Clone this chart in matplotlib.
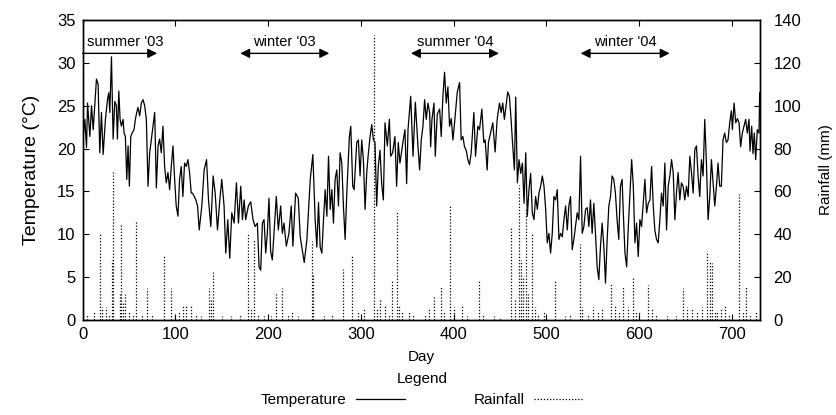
import matplotlib
matplotlib.use("Agg")
import matplotlib.pyplot as plt
from matplotlib.lines import Line2D

plt.rcParams['font.family'] = ['Liberation Sans', 'DejaVu Sans']

# daily temperature trace (day, deg C)
temp_day = [0, 2.5, 4.3, 5.4, 7.9, 9.7, 11.5, 15, 16.8, 18.6, 20.4, 22.2, 24.7, 26.9, 28.3, 29.4,
            31.2, 33, 34.8, 36.5, 37.6, 39.1, 40.5, 41.9, 43.7, 44.8, 46.2, 47.7, 49.1, 50.5, 52,
            53.4, 55.5, 57, 58.4, 59.8, 61.6, 63.4, 65.2, 67, 68.8, 70.6, 72.4, 74.2, 76, 77.8,
            79.6, 81.4, 83.1, 84.9, 86.7, 88.5, 90.3, 92.1, 93.9, 95.7, 97.5, 99.3, 101, 102.9,
            104.6, 106.4, 108.2, 110, 111.8, 113.6, 115.4, 117.2,
            118.6, 122.2, 124, 125.8, 128.6, 131.1, 133.7, 135.8, 138.3, 140.8, 143, 145.5, 148,
            150.1, 152.6, 154.4, 156.6, 158.7, 160.9, 163.4, 165.9, 168.1, 170.6, 172.4, 174.2,
            175.9, 178.8, 181.3, 183.8, 186, 188.5, 190.3, 192.1, 193.9, 195.7, 197.5, 199.2, 201,
            202.8, 204.6, 206.4, 208.9, 211.1, 213.6, 215.4, 217.2, 219.7, 222.5, 225, 226.8,
            229.7, 232.6,
            234.7, 239, 241.9, 245.5, 248.3, 250.8, 252.6, 254.4, 256.2, 258, 259.8, 261.6, 263.4,
            265.2, 267, 268.8, 270.5, 272.3, 274.1, 275.9, 277.7, 279.5, 281.3, 283.1, 284.9,
            287.7, 289.2, 291.3, 292.8, 295.6, 297.4, 299.2, 301, 302.8, 304.6, 306.4, 308.2, 310,
            311.8, 313.6, 315.3, 317.1, 318.9, 320.7, 322.5, 324.3, 326.1, 328.6, 330.8, 332.2,
            334.3, 336.8, 338.6, 340.4, 342.2, 345.8, 347.6, 349.4,
            350.9, 353.8, 356.3, 358.8, 361.6, 363.4, 365.2, 367, 368.8, 370.6, 372.4, 374.2,
            375.3, 376.7, 378.9, 380.3, 382.4, 385, 386.7, 388.5, 390.3, 392.1, 393.9, 395.7,
            397.5, 399.3, 401.1, 404, 406.5, 408.2, 410, 411.8, 413.6, 415.4, 417.2, 419, 421.9,
            423.7, 426.2, 428, 430.5, 432.6, 434.1, 436.2, 437.6, 439.8, 442.3, 444.8, 447, 449.5,
            451.3, 453, 454.8, 456.6, 458.4, 460.2, 462, 463.8, 465.6,
            467, 468.8, 470.6, 472.4, 474.2, 476, 477.8, 479.5, 481.3, 483.1, 484.9, 486.7, 488.5,
            490.3, 492.1, 493.9, 495.7, 497.5, 499.3, 501, 502.8, 504.6, 506.4, 508.2, 510, 511.8,
            513.6, 515.4, 517.2, 519, 520.8, 522.6, 524.3, 526.1, 527.9, 529.7, 531.5, 533.3,
            535.1, 536.9, 538.7, 540.5, 542.3, 544.1, 545.9, 547.6, 549.4, 551.2, 553, 554.8,
            556.6, 558.4, 560.2, 562, 563.8, 565.6, 567.4, 569.2, 570.9, 572.7, 574.5, 576.3,
            578.1, 579.9, 581.7,
            583, 584.8, 586.6, 588.4, 590.2, 592, 593.8, 595.5, 597.3, 599.1, 600.9, 602.7, 604.5,
            606.3, 608.1, 609.9, 611.7, 613.5, 615.3, 617, 618.8, 620.6, 622.4, 624.2, 626, 627.8,
            629.6, 631.4, 633.2, 635, 636.8, 638.6, 640.3, 642.1, 643.9, 645.7, 647.5, 649.3,
            651.1, 652.9, 654.7, 656.5, 658.3, 660.1, 661.9, 663.6, 665.4, 667.2, 669, 670.8,
            672.6, 674.4, 676.2, 678, 679.8, 681.6, 683.4, 685.1, 686.9, 688.7, 690.5, 692.3,
            694.1, 695.9, 697.7, 699.5,
            700.6, 702.4, 704.2, 706, 707.8, 709.5, 711.3, 713.1, 714.9, 716.7, 718.5, 719.6,
            721.4, 722.8, 724.2, 725.7, 727.5, 729.3, 730]
temp_c = [20.5, 23.4, 20.1, 25.3, 21.4, 25.0, 22.2, 28.1, 27.5, 19.5, 24.2, 19.3, 23.4, 25.7, 26.5, 24.2,
          30.7, 21.1, 25.5, 25.0, 21.1, 26.7, 23.4, 22.6, 23.4, 21.8, 21.4, 16.4, 20.3, 15.6, 21.4,
          21.8, 22.2, 23.4, 24.2, 24.8, 23.8, 25.3, 25.7, 25.0, 23.4, 15.6, 19.5, 21.1, 22.6, 24.2,
          15.4, 20.3, 21.1, 19.5, 22.6, 17.9, 16.0, 17.2, 15.2, 17.9, 20.3, 16.4, 13.3, 12.1,
          16.4, 17.9, 14.4, 18.3, 17.9, 18.7, 17.2, 14.8,
          14.8, 14.0, 13.3, 10.5, 13.3, 17.5, 18.7, 14.0, 10.9, 16.8, 14.8, 10.5, 14.0,
          16.4, 13.3, 7.8, 11.7, 7.2, 12.5, 11.3, 16.0, 11.3, 15.6, 11.7, 14.0,
          11.7, 13.3, 13.8, 11.7, 10.9, 11.3, 6.2, 5.8, 11.3, 11.7, 7.8, 10.1, 14.2,
          8.0, 7.0, 10.1, 14.4, 10.5, 13.3, 10.1, 11.3, 8.6, 10.1, 13.3, 8.6,
          14.8, 14.2,
          9.7, 6.7, 9.4, 16.4, 19.3, 11.7, 8.5, 13.7, 8.5, 7.8, 11.7, 15.2, 12.1,
          19.1, 12.9, 15.2, 11.3, 16.4, 17.5, 13.3, 19.5, 18.3, 13.2, 9.4, 14.8,
          21.4, 22.6, 15.6, 15.2, 20.7, 21.0, 16.8, 21.0, 18.7, 12.9, 17.2, 19.5, 21.4,
          22.8, 21.0, 20.7, 13.3, 18.0, 19.8, 15.9, 14.0, 23.0, 20.3, 23.4, 19.1,
          19.5, 21.4, 15.6, 20.7, 18.3, 21.0, 22.2, 15.9,
          22.2, 26.1, 19.1, 25.4, 20.3, 17.5, 21.0, 22.6, 25.7, 23.4, 25.3, 24.2,
          20.2, 23.4, 25.3, 19.1, 24.0, 24.6, 21.4, 26.1, 28.9, 25.3, 27.2, 22.6,
          23.5, 21.0, 23.0, 26.6, 27.7, 21.0, 21.4, 20.2, 19.8, 18.7, 18.1, 19.5, 24.2,
          19.1, 22.6, 22.2, 24.6, 20.7, 21.0, 17.5, 20.7, 21.8, 23.0, 19.6, 23.4, 25.3,
          24.2, 25.3, 23.4, 25.0, 26.6, 26.1, 23.4, 20.3, 17.5,
          26.0, 16.0, 18.7, 17.1, 18.3, 13.6, 19.5, 12.1, 15.2, 17.1, 12.5, 11.7, 14.4,
          12.9, 14.8, 15.6, 16.8, 15.6, 12.9, 9.0, 10.1, 7.8, 10.1, 14.4, 14.0, 15.2,
          9.4, 10.1, 9.7, 11.7, 13.3, 10.5, 13.3, 14.4, 8.2, 9.4, 10.9, 12.5,
          11.7, 19.1, 10.1, 10.9, 12.9, 13.1, 10.9, 14.0, 10.1, 13.6, 10.1, 6.2,
          4.7, 8.6, 11.3, 8.6, 4.3, 9.4, 13.3, 14.4, 16.8, 16.4, 14.8, 11.7,
          9.4, 15.6, 16.4,
          12.5, 7.8, 6.2, 10.9, 14.8, 18.7, 15.6, 9.0, 11.3, 7.4, 11.7, 10.9, 13.6,
          16.4, 12.5, 13.6, 14.0, 17.9, 13.3, 10.5, 9.4, 9.0, 11.7, 14.8, 13.3, 18.3,
          10.5, 15.6, 16.8, 18.7, 17.2, 11.7, 14.8, 17.2, 14.0, 16.0, 15.6, 14.0,
          15.6, 14.4, 19.1, 17.2, 14.8, 19.9, 20.3, 16.8, 14.4, 18.7, 16.8, 23.4,
          18.3, 11.7, 14.4, 18.7, 16.0, 13.3, 15.6, 18.3, 15.6, 15.6, 21.0, 21.8,
          20.7, 21.0, 23.0, 24.4,
          22.2, 25.3, 23.0, 23.5, 23.0, 20.2, 21.8, 22.6, 23.4, 21.8, 23.4, 19.7,
          22.6, 19.4, 21.8, 18.7, 22.2, 21.8, 26.5]

# daily rainfall events (day, mm)
rain_day = [5, 12, 18.6, 21, 25, 28, 32, 33, 40.5, 42, 44, 46, 50, 54, 58, 64, 69, 75, 88, 95,
            100, 104, 108, 112, 117, 122, 128, 136, 138, 141, 150, 160, 170, 178, 182, 184.5,
            189, 196, 203, 208.5, 215, 222, 226, 232, 247, 249, 260, 269, 280.6, 290.3, 297,
            303, 314.3, 318, 321, 326, 330, 334, 338.5, 341.5, 344, 352, 356, 369, 373, 379,
            386, 390, 396, 400, 409, 415, 427, 432, 443.4, 450, 462.2, 466, 470.5, 473, 474.5,
            477.8, 480, 485, 488, 491.4, 498, 509.6, 520, 525, 536.8, 539, 545, 550, 556, 560,
            570, 574, 578, 582.4, 588, 593.8, 597, 600, 609.5, 613.7, 618, 630, 640, 647.5,
            652, 657, 662, 668, 672.7, 676, 678.8, 682, 684.5, 688, 692.5, 697, 707.5, 712,
            715, 720, 726]
rain_mm = [3, 4, 40, 6, 6, 3, 28, 69, 12, 45, 8, 12, 4, 3, 46, 3, 15, 3, 30, 15,
           3, 4, 7, 7, 7, 3, 2, 15, 10, 22.5, 2, 2, 3, 40, 5, 38,
           3, 2, 2, 12.5, 15, 3, 4, 2, 37, 22, 2, 3, 24, 30, 4,
           5, 133, 5, 10, 7, 3, 18, 50.5, 7, 4, 4, 3, 3, 5, 11,
           16, 4, 53, 6, 7, 2, 18.7, 3, 2, 1, 43, 10, 63, 28, 20,
           52, 12, 40, 6, 3, 4, 18, 2, 3, 35.5, 6, 3, 6, 4, 5,
           17, 7, 4, 16, 6, 20, 4, 4, 16.3, 5, 3, 2, 2, 15,
           6, 5, 4, 6, 32, 27, 26.5, 4, 4, 5, 7, 3, 59, 4,
           16, 3, 4]

# season arrows: (label, start day, end day, both heads)
seasons = [("summer '03", 0, 80.5, False),
           ("winter '03", 170, 266, True),
           ("summer '04", 354, 449, True),
           ("winter '04", 537, 633, True)]

fig = plt.figure(figsize=(8.37, 4.15), dpi=100)
ax = fig.add_axes([0.0986, 0.229, 0.809, 0.723])
ax2 = ax.twinx()

ax.plot(temp_day, temp_c, color='k', lw=0.9)
ax2.vlines(rain_day, 0, rain_mm, colors='k', linestyles=(0, (1, 1.5)), lw=0.9)

ax.set_xlim(0, 730)
ax.set_ylim(0, 35)
ax2.set_ylim(0, 140)
ax.set_xticks(range(0, 701, 100))
ax.set_yticks(range(0, 36, 5))
ax2.set_yticks(range(0, 141, 20))

ax.tick_params(direction='in', top=True, right=False, labelsize=12, length=4, pad=5)
ax2.tick_params(direction='in', labelsize=12, length=4, pad=10)
for a in (ax, ax2):
    for s in a.spines.values():
        s.set_linewidth(1.0)

ax.set_xlabel('Day', fontsize=11, labelpad=6)
ax.set_ylabel('Temperature (°C)', fontsize=14, labelpad=12)
ax2.set_ylabel('Rainfall (mm)', fontsize=11)
ax2.yaxis.set_label_coords(1.088, 0.5)

for label, d0, d1, both in seasons:
    style = '<|-|>' if both else '-|>'
    ax.annotate('', xy=(d1, 31.1), xytext=(d0, 31.1),
                arrowprops=dict(arrowstyle=style, color='k', lw=1.0,
                                mutation_scale=14, shrinkA=0, shrinkB=0),
                annotation_clip=False)
    ax.text((d0 + d1) / 2 + (6 if not both else 0), 32.4, label,
            ha='center', va='center', fontsize=10.5)

handles = [Line2D([], [], color='k', lw=0.9),
           Line2D([], [], color='k', lw=0.9, linestyle=(0, (1, 1.5)))]
leg = fig.legend(handles, ['Temperature', 'Rainfall'], title='Legend', ncol=2,
                 frameon=False, markerfirst=False, fontsize=11, title_fontsize=11,
                 handlelength=3.2, columnspacing=4.5, handletextpad=0.6,
                 loc='lower center', bbox_to_anchor=(0.504, -0.015))

fig.savefig('out.png', dpi=100)
